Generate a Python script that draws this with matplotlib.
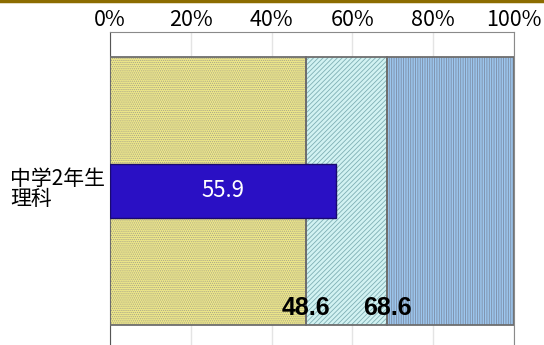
import matplotlib
matplotlib.use("Agg")
import matplotlib.pyplot as plt

# stacked shares (cumulative boundaries, %) and the overlaid score bar
category = "中学2年生\n理科"
boundaries = [0, 48.6, 68.6, 100]
score = 55.9
ticks = [0, 20, 40, 60, 80, 100]
tick_labels = ["0%", "20%", "40%", "60%", "80%", "100%"]

seg_faces = ["#EEE88A", "#D2F2F2", "#9CC6EE"]
seg_hatch_colors = ["#A8A488", "#7FAFB4", "#7C8CA4"]
seg_hatches = ["........", "///////", "|||||||"]

plt.rcParams["font.family"] = ["Noto Sans CJK JP", "DejaVu Sans"]
plt.rcParams["hatch.linewidth"] = 0.6

fig = plt.figure(figsize=(5.44, 3.45), dpi=100)
ax = fig.add_axes([110 / 544, 0, 404 / 544, 1 - 32 / 345])

# stacked background bar
for i in range(3):
    left = boundaries[i]
    width = boundaries[i + 1] - boundaries[i]
    ax.barh(0, width, left=left, height=1.0, color=seg_faces[i],
            hatch=seg_hatches[i], edgecolor=seg_hatch_colors[i], linewidth=0, zorder=2)
    ax.barh(0, width, left=left, height=1.0, fill=False,
            edgecolor="#6E6E6E", linewidth=1.3, zorder=3)

# score bar on top
ax.barh(0, score, height=0.2, color="#2A10C4", edgecolor="#1A0A70", linewidth=1, zorder=4)
ax.text(score / 2, 0, f"{score}", color="white", fontsize=16,
        ha="center", va="center", zorder=5)

for b in boundaries[1:3]:
    ax.text(b, -0.435, f"{b}", fontsize=18, fontweight="bold",
            family=["Liberation Sans", "DejaVu Sans"],
            ha="center", va="center", zorder=5)

ax.set_xlim(0, 100)
ax.set_ylim(-0.5 - 20 / 268, 0.5 + 25 / 268)
ax.set_xticks(ticks)
ax.set_xticklabels(tick_labels, fontsize=15.5)
ax.xaxis.tick_top()
ax.tick_params(axis="x", length=0, pad=1)
ax.set_yticks([])
ax.grid(axis="x", color="#E4E4E4", linewidth=1, zorder=0)
for side in ["top", "right"]:
    ax.spines[side].set_color("#8A8A8A")
ax.spines["left"].set_color("#555555")
ax.spines["bottom"].set_visible(False)

fig.text(10 / 544, 1 - 189 / 345, category, fontsize=15, ha="left", va="center",
         linespacing=0.85)

# dark gold rule along the top edge
fig.add_artist(plt.Line2D([0, 1], [0.997, 0.997], color="#8C6C00", linewidth=2.5,
                          transform=fig.transFigure))

fig.savefig("out.png", dpi=100)
